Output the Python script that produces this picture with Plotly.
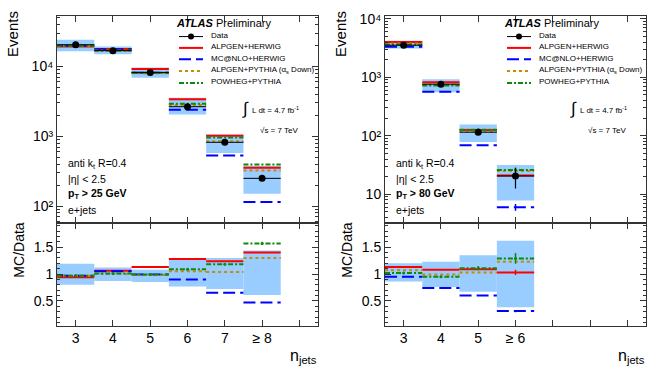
import plotly.graph_objects as go

W, H = 658, 370

# ---------------- data: left panel (pT > 25 GeV) ----------------
cats_L = ["3", "4", "5", "6", "7", "≥ 8"]
x_L = [3, 4, 5, 6, 7, 8]
data_L = [20400, 16800, 8200, 2650, 820, 250]
data_err_L = [150, 130, 90, 50, 28, 16]
band_lo_L = [16500, 14900, 6900, 2050, 575, 150]
band_hi_L = [24100, 19200, 9600, 3550, 1070, 380]
alpgen_herwig_L = [19300, 17700, 9200, 3400, 1020, 355]
mcnlo_herwig_L = [19800, 17600, 8100, 2390, 530, 115]
alpgen_pythia_L = [19800, 16800, 8000, 2810, 850, 325]
powheg_pythia_L = [19800, 16900, 8100, 2920, 960, 395]
rband_lo_L = [0.80, 0.87, 0.85, 0.77, 0.72, 0.61]
rband_hi_L = [1.19, 1.12, 1.08, 1.30, 1.30, 1.44]
r_alpgen_herwig_L = [0.94, 1.06, 1.13, 1.28, 1.24, 1.40]
r_mcnlo_herwig_L = [0.97, 1.05, 0.99, 0.90, 0.65, 0.47]
r_alpgen_pythia_L = [0.97, 1.00, 0.98, 1.05, 1.04, 1.30]
r_powheg_pythia_L = [0.97, 1.01, 0.99, 1.09, 1.18, 1.57]
r_powheg_err_L = [0, 0, 0, 0, 0, 0.03]

# ---------------- data: right panel (pT > 80 GeV) ----------------
cats_R = ["3", "4", "5", "≥ 6"]
x_R = [3, 4, 5, 6]
data_R = [3530, 760, 115, 20.5]
data_err_R = [60, 28, 11, 8]
band_lo_R = [3100, 555, 78, 7.8]
band_hi_R = [4190, 925, 155, 31.6]
alpgen_herwig_R = [4000, 820, 125, 21]
mcnlo_herwig_R = [3320, 565, 69, 6.0]
alpgen_pythia_R = [3780, 755, 118, 25]
powheg_pythia_R = [3640, 725, 127, 26]
mcnlo_err_R = [0, 0, 0, 0.8]
powheg_err_R = [0, 0, 0, 2.5]
rband_lo_R = [0.86, 0.76, 0.67, 0.38]
rband_hi_R = [1.20, 1.23, 1.35, 1.62]
r_alpgen_herwig_R = [1.13, 1.08, 1.09, 1.03]
r_mcnlo_herwig_R = [0.95, 0.74, 0.60, 0.31]
r_alpgen_pythia_R = [1.07, 0.99, 1.03, 1.23]
r_powheg_pythia_R = [1.02, 0.95, 1.11, 1.29]
r_herwig_err_R = [0, 0, 0, 0.05]
r_mcnlo_err_R = [0, 0, 0, 0.02]
r_powheg_err_R = [0, 0, 0.04, 0.10]

FONT = "Liberation Sans, Arial, sans-serif"
RED, BLUE, ORANGE, GREEN, BAND = "#ff0000", "#0000ff", "#c98a00", "#0b8a0b", "#99ccff"
STYLES = [
    ("ALPGEN+HERWIG", RED, "solid"),
    ("MC@NLO+HERWIG", BLUE, "12px,5px"),
    ("ALPGEN+PYTHIA (α<sub>s</sub> Down)", ORANGE, "dot"),
    ("POWHEG+PYTHIA", GREEN, "5px,2px,2px,2px"),
]


def segs(xs, ys):
    X, Y = [], []
    for x, y in zip(xs, ys):
        X += [x - 0.5, x + 0.5, None]
        Y += [y, y, None]
    return X, Y


fig = go.Figure()


def add_panel(xa, ya, xs, lo, hi, series, errs, data=None, derr=None):
    fig.add_trace(go.Bar(x=xs, y=[h - l for l, h in zip(lo, hi)], base=lo, width=1,
                         marker=dict(color=BAND, line=dict(width=0)),
                         xaxis=xa, yaxis=ya, showlegend=False, hoverinfo="skip"))
    for (name, col, dash), vals, e in zip(STYLES, series, errs):
        X, Y = segs(xs, vals)
        fig.add_trace(go.Scatter(x=X, y=Y, mode="lines", line=dict(color=col, width=2, dash=dash),
                                 xaxis=xa, yaxis=ya, showlegend=False, hoverinfo="skip"))
        if e is not None:
            fig.add_trace(go.Scatter(x=xs, y=vals, mode="markers",
                                     marker=dict(color=col, size=3 if col == GREEN else 1),
                                     error_y=dict(type="data", array=e, width=0, thickness=1.5, color=col),
                                     xaxis=xa, yaxis=ya, showlegend=False, hoverinfo="skip"))
    if data is not None:
        fig.add_trace(go.Scatter(x=xs, y=data, mode="markers",
                                 marker=dict(color="black", size=7),
                                 error_x=dict(type="constant", value=0.5, width=0, thickness=1, color="black"),
                                 error_y=dict(type="data", array=derr, width=0, thickness=1.2, color="black"),
                                 xaxis=xa, yaxis=ya, showlegend=False, hoverinfo="skip"))


add_panel("x", "y", x_L, band_lo_L, band_hi_L,
          [alpgen_herwig_L, mcnlo_herwig_L, alpgen_pythia_L, powheg_pythia_L],
          [None, None, None, None], data_L, data_err_L)
add_panel("x2", "y2", x_L, rband_lo_L, rband_hi_L,
          [r_alpgen_herwig_L, r_mcnlo_herwig_L, r_alpgen_pythia_L, r_powheg_pythia_L],
          [None, None, None, r_powheg_err_L])
add_panel("x3", "y3", x_R, band_lo_R, band_hi_R,
          [alpgen_herwig_R, mcnlo_herwig_R, alpgen_pythia_R, powheg_pythia_R],
          [None, mcnlo_err_R, None, powheg_err_R], data_R, data_err_R)
add_panel("x4", "y4", x_R, rband_lo_R, rband_hi_R,
          [r_alpgen_herwig_R, r_mcnlo_herwig_R, r_alpgen_pythia_R, r_powheg_pythia_R],
          [r_herwig_err_R, r_mcnlo_err_R, None, r_powheg_err_R])


def px(x):
    return x / W


def py(y):
    return 1 - y / H


LINE = "#333333"
common = dict(showline=True, linecolor=LINE, linewidth=1, mirror="allticks", ticks="inside",
              ticklen=6, tickcolor=LINE, showgrid=False, zeroline=False,
              tickfont=dict(family=FONT, size=14, color="black"))

MAIN_Y = [py(221), py(11)]
RAT_Y = [py(325), py(221)]
LX = [px(57), px(318)]
RX = [px(385), px(646)]


def minor_log(lo, hi):
    vals = []
    for k in range(lo, hi):
        vals += [m * 10 ** k for m in range(2, 10)]
    return vals


xticks = [3, 4, 5, 6, 7, 8, 9]
fig.update_layout(
    width=W, height=H, margin=dict(l=0, r=0, t=0, b=0),
    paper_bgcolor="white", plot_bgcolor="white", barmode="overlay", showlegend=False,
    xaxis=dict(domain=LX, anchor="y", range=[2.5, 9.5], tickvals=xticks, showticklabels=False, **common),
    yaxis=dict(domain=MAIN_Y, anchor="x", type="log", range=[1.759, 4.723],
               tickvals=[100, 1000, 10000],
               ticktext=["10²", "10³", "10⁴"],
               minor=dict(tickmode="array", tickvals=minor_log(1, 5), ticks="inside", ticklen=3, tickcolor=LINE),
               **common),
    xaxis2=dict(domain=LX, anchor="y2", range=[2.5, 9.5], tickvals=xticks,
                ticktext=cats_L + [" "], **common),
    yaxis2=dict(domain=RAT_Y, anchor="x2", range=[0.04, 1.95], tickvals=[0.5, 1, 1.5],
                ticktext=["0.5", "1", "1.5"],
                minor=dict(dtick=0.1, ticks="inside", ticklen=3, tickcolor=LINE), **common),
    xaxis3=dict(domain=RX, anchor="y3", range=[2.5, 9.5], tickvals=xticks, showticklabels=False, **common),
    yaxis3=dict(domain=MAIN_Y, anchor="x3", type="log", range=[0.508, 4.05],
                tickvals=[10, 100, 1000, 10000],
                ticktext=["10", "10²", "10³", "10⁴"],
                minor=dict(tickmode="array", tickvals=minor_log(0, 5), ticks="inside", ticklen=3, tickcolor=LINE),
                **common),
    xaxis4=dict(domain=RX, anchor="y4", range=[2.5, 9.5], tickvals=xticks,
                ticktext=cats_R + [" ", " ", " "], **common),
    yaxis4=dict(domain=RAT_Y, anchor="x4", range=[0.04, 1.95], tickvals=[0.5, 1, 1.5],
                ticktext=["0.5", "1", "1.5"],
                minor=dict(dtick=0.1, ticks="inside", ticklen=3, tickcolor=LINE), **common),
)

ann = []
shapes = []


def text(x, y, t, size, xanchor="left", angle=0, yanchor="middle"):
    ann.append(dict(x=px(x), y=py(y), xref="paper", yref="paper", text=t, showarrow=False,
                    xanchor=xanchor, yanchor=yanchor, textangle=angle,
                    font=dict(family=FONT, size=size, color="black")))


pt_cuts = ["<b>p<sub>T</sub> > 25 GeV</b>", "<b>p<sub>T</sub> > 80 GeV</b>"]
for i, dx in enumerate([0, 328]):
    # ATLAS label
    text(174 + dx, 18, "<b><i>ATLAS</i></b> Preliminary", 11)
    # legend
    rows = [31, 42.5, 54, 66, 78]
    shapes.append(dict(type="line", xref="paper", yref="paper", x0=px(179 + dx), x1=px(203 + dx),
                       y0=py(rows[0] + 1), y1=py(rows[0] + 1), line=dict(color="black", width=1)))
    shapes.append(dict(type="circle", xref="paper", yref="paper", x0=px(188 + dx), x1=px(194 + dx),
                       y0=py(rows[0] + 4), y1=py(rows[0] - 2), fillcolor="black", line=dict(color="black", width=0)))
    text(209 + dx, rows[0], "Data", 8)
    for (name, col, dash), r in zip(STYLES, rows[1:]):
        shapes.append(dict(type="line", xref="paper", yref="paper", x0=px(179 + dx), x1=px(203 + dx),
                           y0=py(r + 1), y1=py(r + 1), line=dict(color=col, width=2, dash=dash)))
        text(209 + dx, r, name, 8)
    # luminosity / energy
    text(240 + dx, 105, "∫", 17)
    text(250 + dx, 106, "L dt = 4.7 fb<sup>-1</sup>", 8)
    text(258 + dx, 127, "√s = 7 TeV", 8)
    # selection
    text(66 + dx, 161, "anti k<sub>t</sub> R=0.4", 10.5)
    text(66 + dx, 176, "|η| < 2.5", 10.5)
    text(66 + dx, 192, pt_cuts[i], 10.5)
    text(66 + dx, 208, "e+jets", 10.5)
    # axis titles
    text(13 + dx, 4, "Events", 15, xanchor="center", angle=-90, yanchor="top")
    text(19 + dx, 249, "MC/Data", 14, xanchor="center", angle=-90)
    text(319 + dx, 356, "n<sub>jets</sub>", 16, xanchor="right")

fig.update_layout(annotations=ann, shapes=shapes)
fig.write_html("out.html", config={"displayModeBar": False},
               post_script="document.body.style.margin='0px';document.body.style.overflow='hidden';"
                           "document.documentElement.style.overflow='hidden';")
